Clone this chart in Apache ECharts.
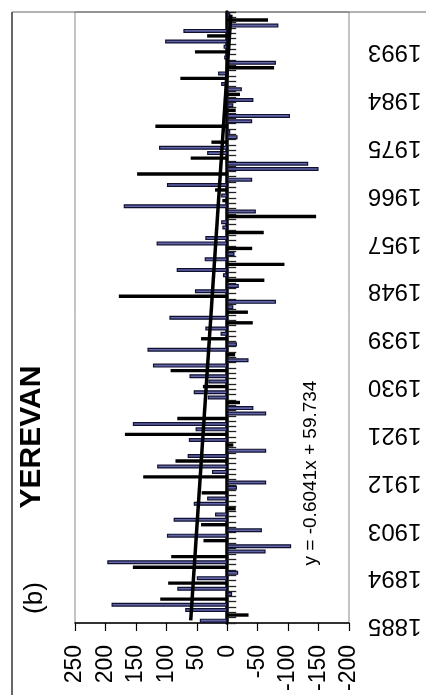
<!DOCTYPE html>
<html>
<head>
<meta charset="utf-8">
<script src="https://cdn.jsdelivr.net/npm/echarts@6/dist/echarts.min.js"></script>
<style>
html,body{margin:0;padding:0;background:#fff;}
#chart{width:426px;height:695px;}
</style>
</head>
<body>
<div id="chart"></div>
<script>
// Years 1885..1999
var years = [];
for (var y = 1885; y <= 1999; y++) years.push(String(y));

// Anomaly bars rendered in blue (null where the bar is drawn dark)
var blueBars = [
  45, null, 69, 190, null, -8, 82, null, 50, -18,
  null, 197, null, -63, -105, null, 99, -57, null, 88,
  20, null, 55, 33, null, -16, -64, null, 25, 115,
  null, 65, -64, null, 63, null, 52, 155, null, -64,
  -43, null, 32, 55, null, 31, 62, null, 122, -35,
  null, 131, -16, null, 11, 36, null, 95, null, -10,
  -80, null, 53, -19, null, 7, 83, null, 37, -12,
  null, 116, 36, null, 8, 10, null, -47, 170, null,
  10, null, 99, -41, null, -150, -133, null, 33, 112,
  null, -17, -5, null, -41, -103, null, -10, -43, null,
  -24, 10, null, 15, null, -80, 5, null, 6, 102,
  null, 72, -84, null, -5
];
// Anomaly bars rendered dark
var blackBars = [
  null, -35, null, null, 110, null, null, 97, null, null,
  155, null, 92, null, null, 39, null, null, 43, null,
  null, -14, null, null, 42, null, null, 138, null, null,
  85, null, null, -10, null, 168, null, null, 82, null,
  null, -21, null, null, 40, null, null, 93, null, null,
  -13, null, null, 43, null, null, -42, null, -34, null,
  null, 178, null, null, -61, null, null, -94, null, null,
  -41, null, null, -60, null, null, -146, null, null, 8,
  null, 20, null, null, 148, null, null, 60, null, null,
  26, null, null, 118, null, null, -14, null, null, -21,
  null, null, 77, null, -77, null, null, 53, null, null,
  33, null, null, -67, null
];
// Linear trend line end points (value at first and last year)
var trendStart = 60;
var trendEnd = -6;
var equationText = 'y = -0.6041x + 59.734';

var FONT = 'Liberation Sans, Arial, sans-serif';
var chart = echarts.init(document.getElementById('chart'));
chart.setOption({
  animation: false,
  backgroundColor: '#fff',
  grid: {left: 75, right: 77, top: 12, bottom: 72, show: true, borderColor: '#8a8a8a', borderWidth: 1},
  xAxis: {
    type: 'value', min: -200, max: 250, interval: 50, inverse: true,
    axisLine: {show: true, onZero: false, lineStyle: {color: '#000', width: 1.5}},
    axisTick: {show: true, length: 8, lineStyle: {color: '#000', width: 1.2}},
    splitLine: {show: false},
    axisLabel: {rotate: 90, margin: 22, fontSize: 23, color: '#000', fontFamily: FONT}
  },
  yAxis: [
    {
      type: 'category', data: years, position: 'right',
      axisLine: {show: false, onZero: false},
      axisTick: {show: false},
      axisLabel: {interval: 8, rotate: 180, margin: 19, fontSize: 24, color: '#000', fontFamily: FONT,
        verticalAlign: 'bottom', lineHeight: 11}
    },
    {
      type: 'category', data: years, position: 'right',
      axisLine: {show: true, onZero: true, lineStyle: {color: '#000', width: 3.5}},
      axisTick: {show: true, interval: 0, length: 9, lineStyle: {color: '#222', width: 1.3}},
      axisLabel: {show: false}
    }
  ],
  series: [
    {
      type: 'bar', data: blueBars, barWidth: 4, barGap: '-100%',
      itemStyle: {color: '#6264a8', borderColor: '#101030', borderWidth: 1.2}, z: 2
    },
    {
      type: 'bar', data: blackBars, barWidth: 3.4, barGap: '-100%',
      itemStyle: {color: '#000'}, z: 3
    },
    {
      type: 'line', data: [[trendStart, 0], [trendEnd, years.length - 1]],
      symbol: 'none', lineStyle: {color: '#000', width: 3.5}, z: 4, silent: true
    }
  ],
  graphic: [
    {type: 'line', shape: {x1: 12, y1: 12, x2: 12, y2: 695}, style: {stroke: '#333', lineWidth: 1.5}},
    {type: 'line', shape: {x1: 12, y1: 12, x2: 426, y2: 12}, style: {stroke: '#666', lineWidth: 1.2}},
    {type: 'text', x: 35, y: 598, rotation: Math.PI / 2,
      style: {text: '(b)', font: '26px ' + FONT, fill: '#000', align: 'center', verticalAlign: 'middle'}},
    {type: 'text', x: 32, y: 437, rotation: Math.PI / 2,
      style: {text: 'YEREVAN', font: 'bold 30px ' + FONT, fill: '#000', align: 'center', verticalAlign: 'middle'}},
    {type: 'text', x: 311, y: 473, rotation: Math.PI / 2,
      style: {text: equationText, font: '19px ' + FONT, fill: '#000', align: 'center', verticalAlign: 'middle'}}
  ]
});
</script>
</body>
</html>
